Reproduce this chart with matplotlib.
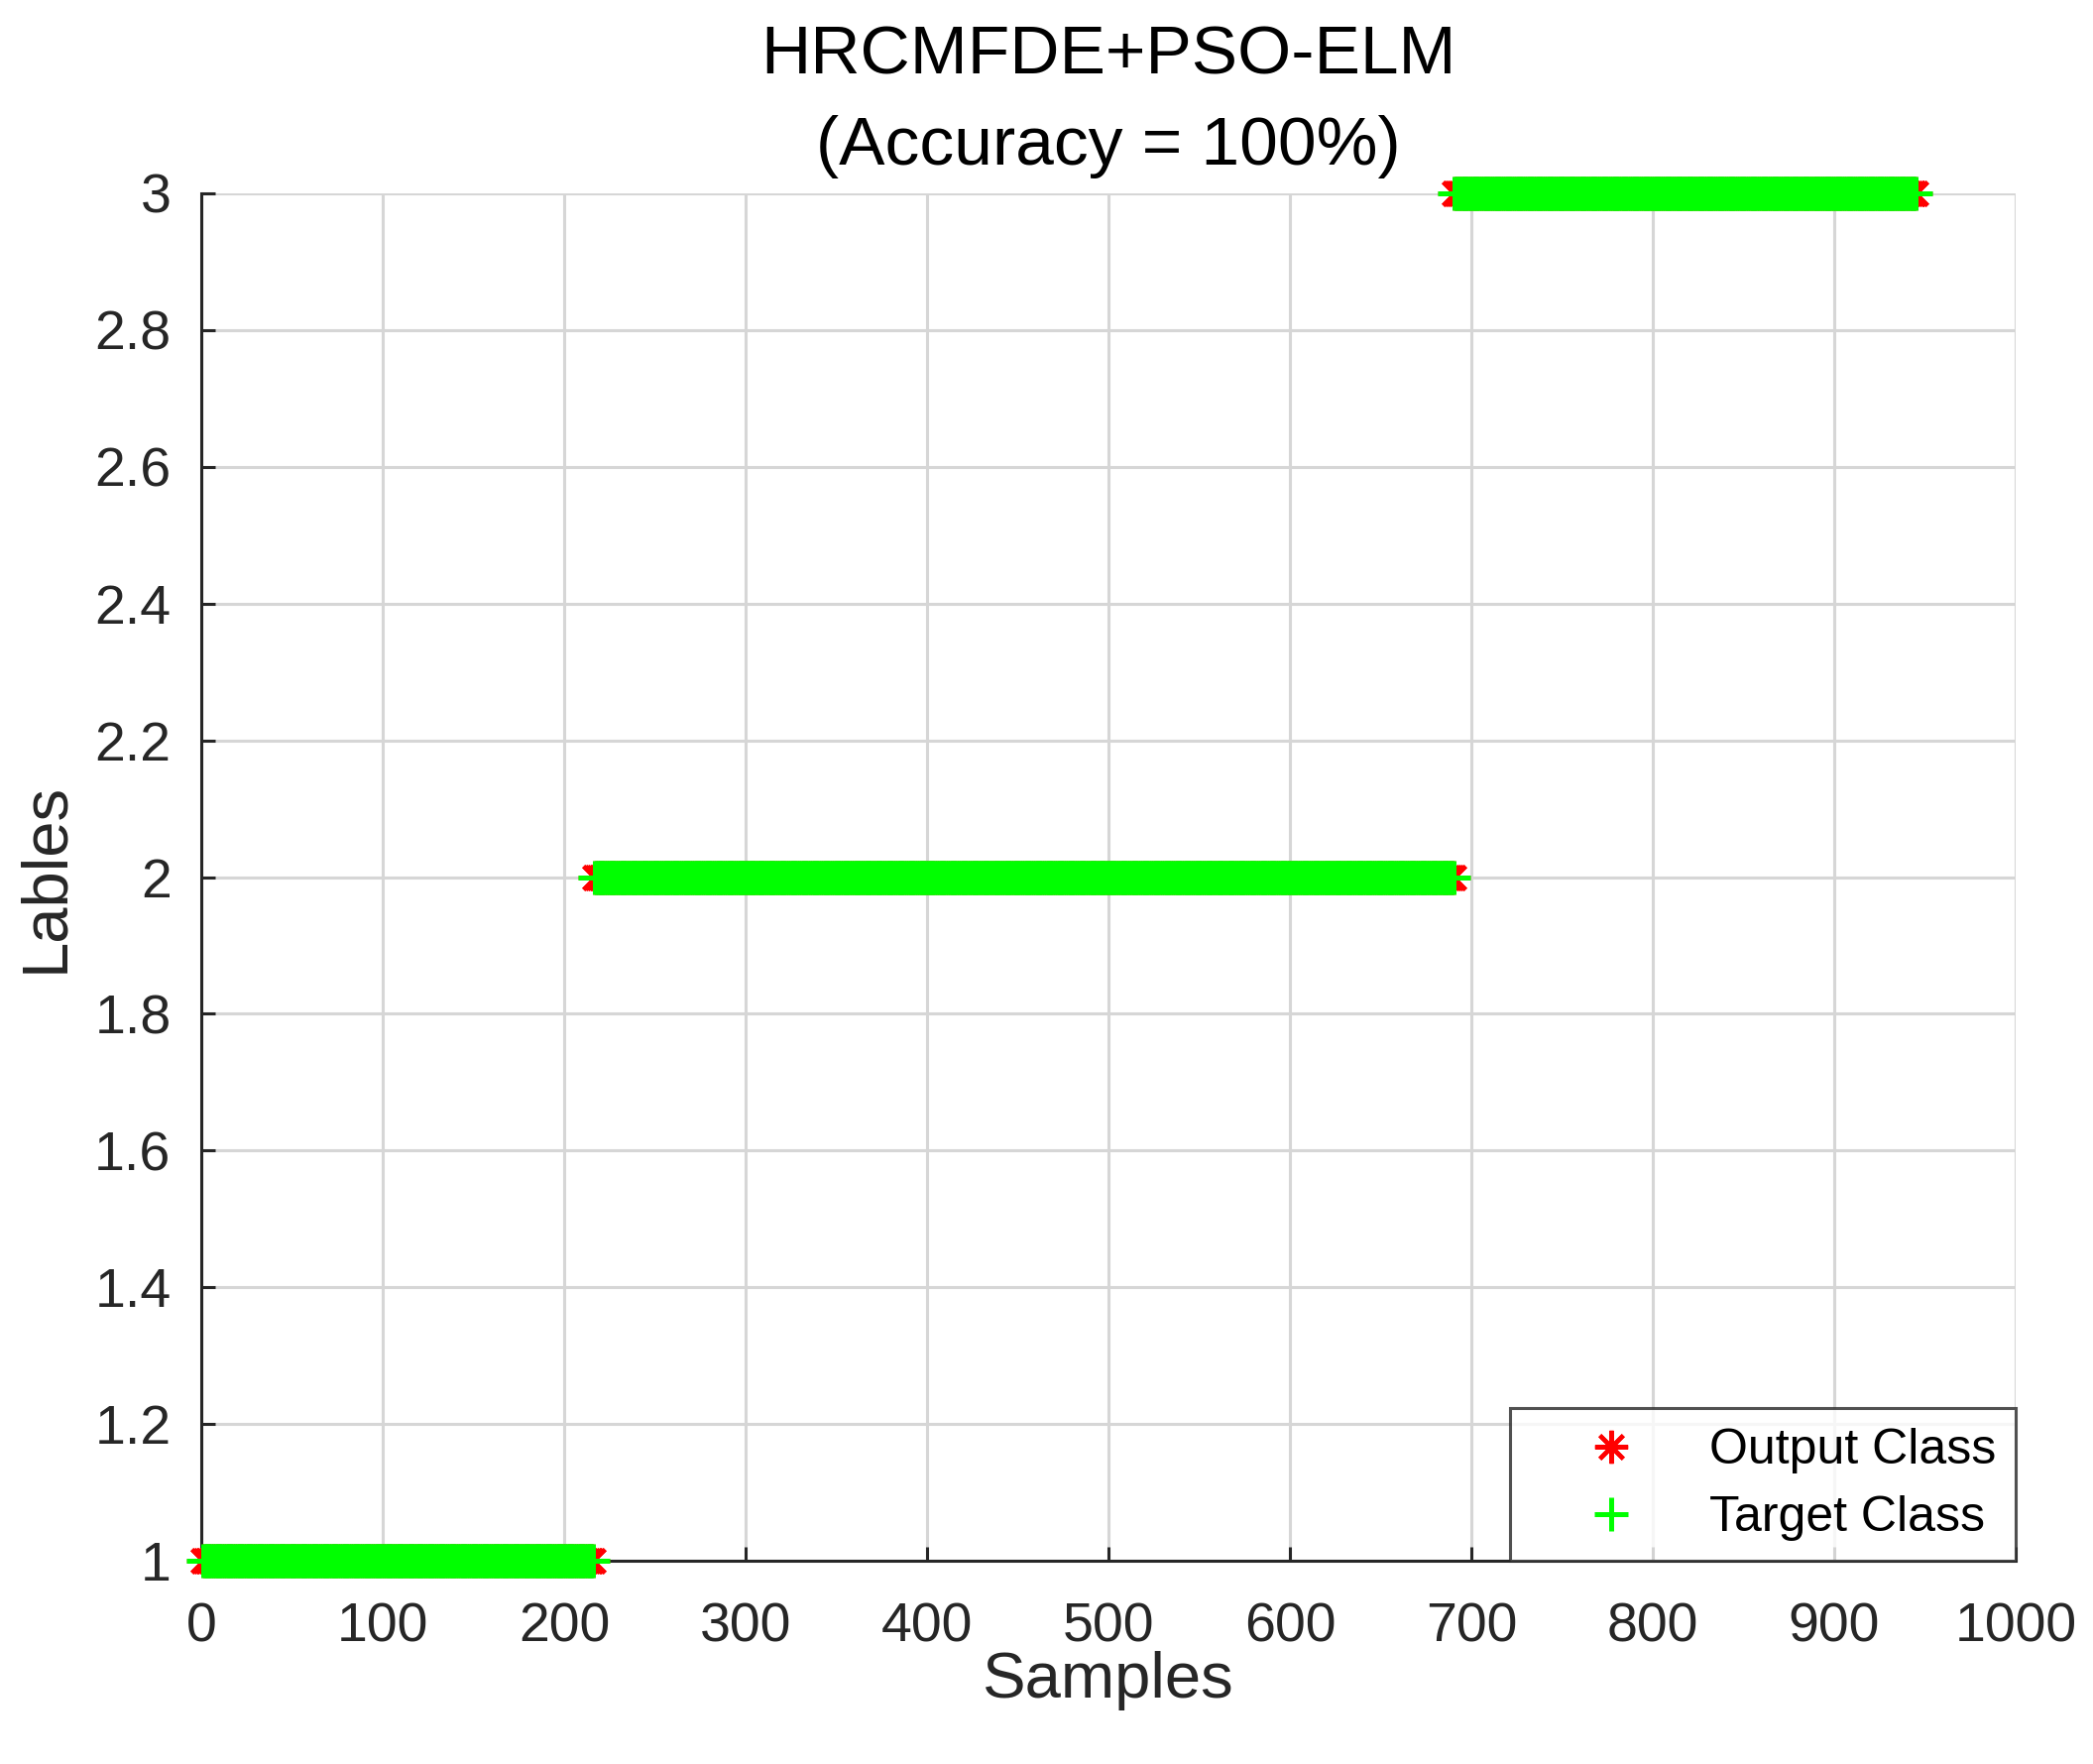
import numpy as np
import matplotlib
matplotlib.use("Agg")
import matplotlib.pyplot as plt

# Data: class label of each test sample (ordered), and counts per class
class_labels = [1, 2, 3]
class_counts = [216, 474, 255]
title_line1 = "HRCMFDE+PSO-ELM"
title_line2 = "(Accuracy = 100%)"
x_ticks = [0, 100, 200, 300, 400, 500, 600, 700, 800, 900, 1000]
y_ticks = [1, 1.2, 1.4, 1.6, 1.8, 2, 2.2, 2.4, 2.6, 2.8, 3]
y_ticklabels = ["1", "1.2", "1.4", "1.6", "1.8", "2", "2.2", "2.4", "2.6", "2.8", "3"]

target = np.repeat(class_labels, class_counts)
output = target.copy()
samples = np.arange(1, len(target) + 1)

plt.rcParams['font.family'] = ['Liberation Sans', 'DejaVu Sans']
fig = plt.figure(figsize=(21.11, 17.79), dpi=100)
ax = fig.add_axes([0.0962, 0.1152, 0.8668, 0.7752])

dark = '#262626'
ax.plot(samples, output, linestyle='none', marker=(8, 2, 0), markersize=24,
        markeredgewidth=3.0, color='#ff0000', label='Output Class',
        clip_on=False, zorder=3)
ax.plot(samples, target, linestyle='none', marker='+', markersize=25,
        markeredgewidth=3.6, color='#00ff00', label='Target Class',
        clip_on=False, zorder=4)

ax.set_xlim(0, 1000)
ax.set_ylim(1, 3)
ax.set_xticks(x_ticks)
ax.set_yticks(y_ticks)
ax.set_yticklabels(y_ticklabels)
ax.grid(True, color='#d6d6d6', linewidth=2.2)
ax.set_axisbelow(True)
for s in ['top', 'right']:
    ax.spines[s].set_visible(False)
for s in ['left', 'bottom']:
    ax.spines[s].set_color(dark)
    ax.spines[s].set_linewidth(2.2)
ax.tick_params(direction='in', length=10, width=2.2, colors=dark,
               labelsize=40, labelcolor=dark)
ax.tick_params(axis='x', pad=30)
ax.tick_params(axis='y', pad=22)

ax.set_xlabel('Samples', fontsize=47, color=dark, labelpad=-2)
ax.set_ylabel('Lables', fontsize=47, color=dark, labelpad=14)
ax.set_title(title_line1 + "\n" + title_line2, fontsize=50, color='black',
             pad=21, linespacing=1.55)

leg = ax.legend(loc='lower right', borderaxespad=0, fontsize=36, frameon=True,
                fancybox=False, edgecolor=dark, handlelength=3.3,
                handletextpad=0.32, borderpad=0.4, labelspacing=0.44,
                numpoints=1)
leg.get_frame().set_linewidth(2.2)
leg.set_zorder(10)
for h in leg.legend_handles:
    h.set_markersize(24)
fig.savefig('out.png', dpi=100)
